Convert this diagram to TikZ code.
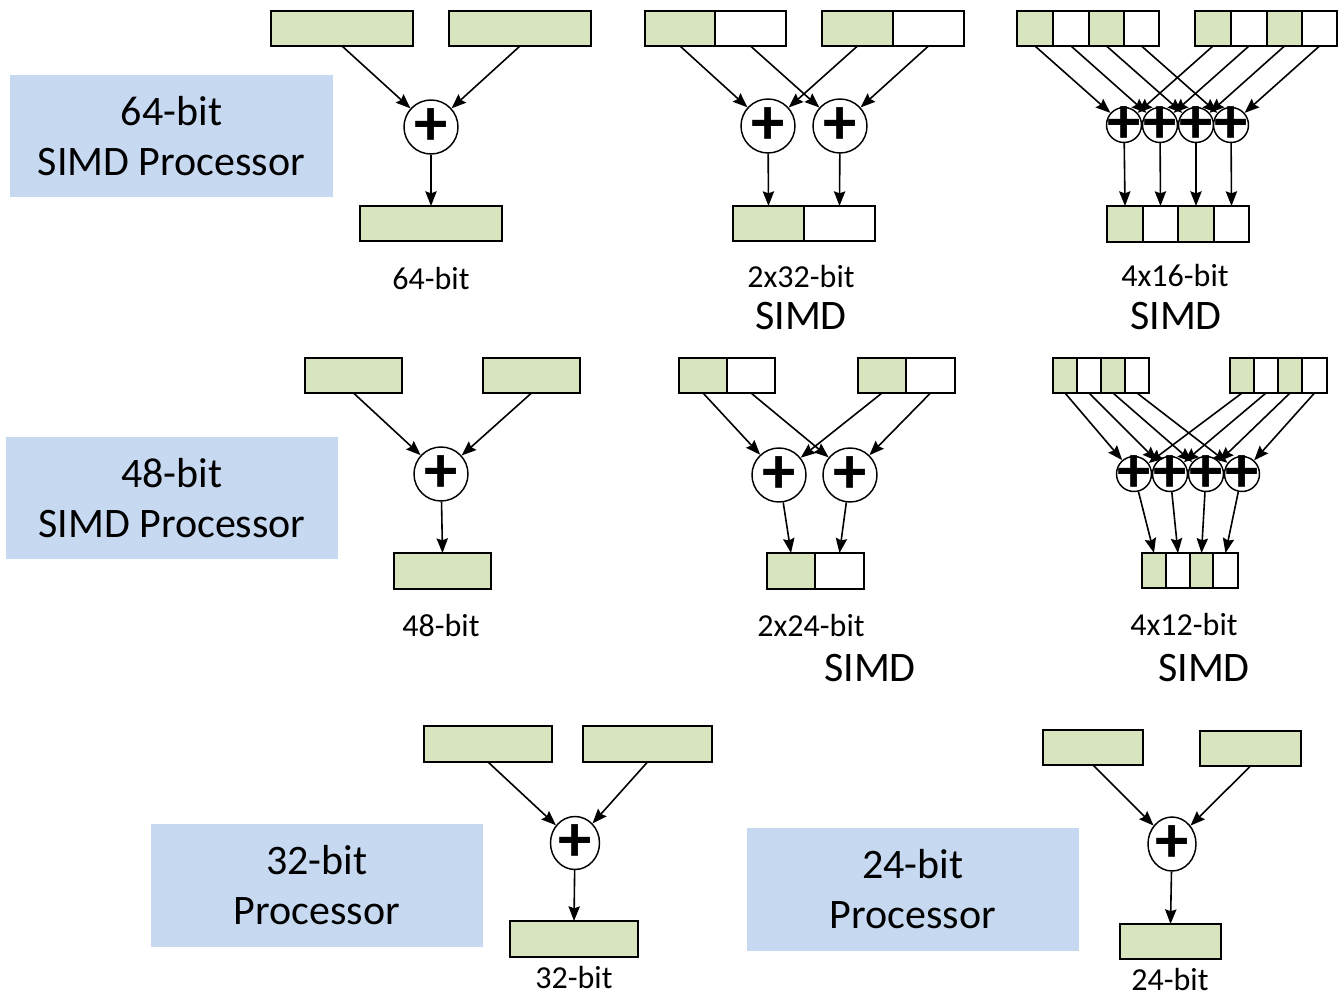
\documentclass[tikz,border=0pt]{standalone}
\usepackage{fontspec}
\setmainfont{Carlito}
\usetikzlibrary{arrows.meta,shapes.geometric}
\definecolor{regg}{HTML}{D7E4BD}
\definecolor{procb}{HTML}{C6D9F1}
\newcommand\regcell[6]{\node[cellbox, fill=#6, minimum width={(#4-#2)*0.75pt}, minimum height={(#5-#3)*0.75pt}] (#1) at ({(#2+#4)/2},{(#3+#5)/2}) {};}
\newcommand\procnode[6]{\node[procbox, minimum width={(#4-#2)*0.75pt}, minimum height={(#5-#3)*0.75pt}] (#1) at ({(#2+#4)/2},{(#3+#5)/2}) {#6};}
\tikzset{
 cellbox/.style={draw, line width=1.4pt, inner sep=0pt, outer sep=0pt},
 plusfont/.style={inner sep=0pt, font=\fontsize{50}{50}\selectfont\bfseries},
 adder/.style={circle, draw, line width=1.1pt, fill=white, inner sep=0pt, minimum size=40.5pt, label={[plusfont]center:+}},
 sadder/.style={adder, minimum size=26.25pt},
 eadder/.style={ellipse, draw, line width=1.1pt, fill=white, inner sep=0pt, label={[plusfont]center:+}},
 conn/.style={-{Stealth[length=11pt,width=8.5pt,inset=1.5pt]}, line width=1.2pt},
 procbox/.style={fill=procb, align=center, inner sep=0pt, font=\fontsize{31.5}{37.5}\selectfont},
 small/.style={anchor=base, inner sep=0pt, font=\fontsize{24}{28}\selectfont},
 big/.style={anchor=base, inner sep=0pt, font=\fontsize{31.5}{37.5}\selectfont},
}
\begin{document}
\begin{tikzpicture}[x=0.75pt,y=-0.75pt]
\useasboundingbox (0,0) rectangle (1340,996);

% ---------- processor boxes ----------
\procnode{p64}{10}{75}{333}{197}{64-bit\\SIMD Processor}
\procnode{p48}{6}{437}{338}{559}{48-bit\\SIMD Processor}
\procnode{p32}{151}{824}{483}{947}{32-bit\\Processor}
\procnode{p24}{747}{828}{1079}{951}{24-bit\\Processor}

% ---------- 64-bit ----------
\regcell{ia}{271}{11}{413}{46}{regg}
\regcell{ib}{449}{11}{591}{46}{regg}
\node[adder] (ia0) at (431,127) {};
\regcell{io}{360}{206}{502}{241}{regg}
\draw[conn] (ia.south) -- (ia0);
\draw[conn] (ib.south) -- (ia0);
\draw[conn] (ia0) -- (io.north);
\node[small] (l64) at (431,289) {64-bit};

% ---------- 2x32-bit ----------
\regcell{ta1}{645}{11}{715}{46}{regg}
\regcell{ta2}{715}{11}{786}{46}{white}
\regcell{tb1}{822}{11}{893}{46}{regg}
\regcell{tb2}{893}{11}{964}{46}{white}
\node[adder] (ts1) at (768,126) {};
\node[adder] (ts2) at (840,126) {};
\regcell{to1}{733}{206}{804}{241}{regg}
\regcell{to2}{804}{206}{875}{241}{white}
\draw[conn] (ta1.south) -- (ts1);
\draw[conn] (ta2.south) -- (ts2);
\draw[conn] (tb1.south) -- (ts1);
\draw[conn] (tb2.south) -- (ts2);
\draw[conn] (ts1) -- (to1.north);
\draw[conn] (ts2) -- (to2.north);
\node[small] (l232) at (801,287) {2x32-bit};
\node[big] (s232) at (801,329) {SIMD};

% ---------- 4x16-bit ----------
\regcell{ua1}{1017}{11}{1053}{46}{regg}
\regcell{ua2}{1053}{11}{1089}{46}{white}
\regcell{ua3}{1089}{11}{1124}{46}{regg}
\regcell{ua4}{1124}{11}{1159}{46}{white}
\regcell{ub1}{1195}{11}{1231}{46}{regg}
\regcell{ub2}{1231}{11}{1267}{46}{white}
\regcell{ub3}{1267}{11}{1302}{46}{regg}
\regcell{ub4}{1302}{11}{1337}{46}{white}
\node[sadder] (us1) at (1124,125) {};
\node[sadder] (us2) at (1160,125) {};
\node[sadder] (us3) at (1196,125) {};
\node[sadder] (us4) at (1231,125) {};
\regcell{uo1}{1107}{206}{1143}{242}{regg}
\regcell{uo2}{1143}{206}{1178}{242}{white}
\regcell{uo3}{1178}{206}{1214}{242}{regg}
\regcell{uo4}{1214}{206}{1249}{242}{white}
\foreach \k in {1,2,3,4} {
  \draw[conn] (ua\k.south) -- (us\k);
  \draw[conn] (ub\k.south) -- (us\k);
  \draw[conn] (us\k) -- (uo\k.north);
}
\node[small] (l416) at (1175,286) {4x16-bit};
\node[big] (s416) at (1176,329) {SIMD};

% ---------- 48-bit ----------
\regcell{ma}{305}{358}{402}{393}{regg}
\regcell{mb}{483}{358}{580}{393}{regg}
\node[adder] (ms) at (441,474) {};
\regcell{mo}{394}{553}{491}{589}{regg}
\draw[conn] (ma.south) -- (ms);
\draw[conn] (mb.south) -- (ms);
\draw[conn] (ms) -- (mo.north);
\node[small] (l48) at (441,636) {48-bit};

% ---------- 2x24-bit ----------
\regcell{na1}{679}{358}{727}{393}{regg}
\regcell{na2}{727}{358}{775}{393}{white}
\regcell{nb1}{858}{358}{906}{393}{regg}
\regcell{nb2}{906}{358}{955}{393}{white}
\node[adder] (ns1) at (779,475) {};
\node[adder] (ns2) at (850,475) {};
\regcell{no1}{767}{553}{815}{589}{regg}
\regcell{no2}{815}{553}{864}{589}{white}
\draw[conn] (na1.south) -- (ns1);
\draw[conn] (na2.south) -- (ns2);
\draw[conn] (nb1.south) -- (ns1);
\draw[conn] (nb2.south) -- (ns2);
\draw[conn] (ns1) -- (no1.north);
\draw[conn] (ns2) -- (no2.north);
\node[small] (l224) at (811,636) {2x24-bit};
\node[big] (s224) at (870,681) {SIMD};

% ---------- 4x12-bit ----------
\regcell{va1}{1053}{358}{1077}{393}{regg}
\regcell{va2}{1077}{358}{1101}{393}{white}
\regcell{va3}{1101}{358}{1125}{393}{regg}
\regcell{va4}{1125}{358}{1149}{393}{white}
\regcell{vb1}{1230}{358}{1254}{393}{regg}
\regcell{vb2}{1254}{358}{1278}{393}{white}
\regcell{vb3}{1278}{358}{1302}{393}{regg}
\regcell{vb4}{1302}{358}{1327}{393}{white}
\node[sadder] (vs1) at (1134,474) {};
\node[sadder] (vs2) at (1170,474) {};
\node[sadder] (vs3) at (1206,474) {};
\node[sadder] (vs4) at (1242,474) {};
\regcell{vo1}{1142}{553}{1166}{588}{regg}
\regcell{vo2}{1166}{553}{1190}{588}{white}
\regcell{vo3}{1190}{553}{1213}{588}{regg}
\regcell{vo4}{1213}{553}{1238}{588}{white}
\foreach \k in {1,2,3,4} {
  \draw[conn] (va\k.south) -- (vs\k);
  \draw[conn] (vb\k.south) -- (vs\k);
  \draw[conn] (vs\k) -- (vo\k.north);
}
\node[small] (l412) at (1184,635) {4x12-bit};
\node[big] (s412) at (1204,681) {SIMD};

% ---------- 32-bit ----------
\regcell{ka}{424}{726}{552}{762}{regg}
\regcell{kb}{583}{726}{712}{762}{regg}
\node[eadder, minimum width=36.75pt, minimum height=39.75pt] (ks) at (575,843) {};
\regcell{ko}{510}{921}{638}{957}{regg}
\draw[conn] (ka.south) -- (ks);
\draw[conn] (kb.south) -- (ks);
\draw[conn] (ks) -- (ko.north);
\node[small] (l32) at (574,988) {32-bit};

% ---------- 24-bit ----------
\regcell{ja}{1043}{730}{1143}{765}{regg}
\regcell{jb}{1200}{731}{1301}{766}{regg}
\node[eadder, minimum width=36pt, minimum height=40.5pt] (js) at (1172,844) {};
\regcell{jo}{1120}{924}{1221}{959}{regg}
\draw[conn] (ja.south) -- (js);
\draw[conn] (jb.south) -- (js);
\draw[conn] (js) -- (jo.north);
\node[small] (l24) at (1170,990) {24-bit};
\end{tikzpicture}
\end{document}
